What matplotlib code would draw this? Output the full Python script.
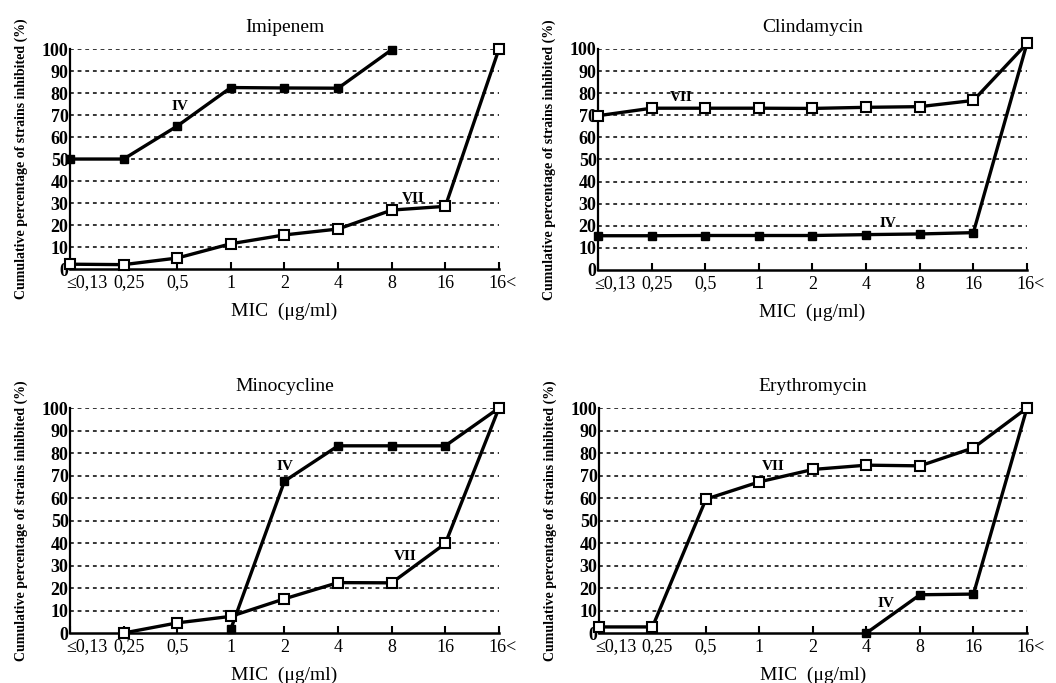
import matplotlib.pyplot as plt
import matplotlib.transforms as mtransforms

# categories on the MIC axis
mic_labels = ['≤0,13', '0,25', '0,5', '1', '2', '4', '8', '16', '16<']

# cumulative % inhibited, None where no point was drawn
imi_iv = [50, 50, 65, 82.5, 82.3, 82.2, 99.7, None, None]
imi_vii = [2.2, 2, 5, 11.5, 15.5, 18.2, 26.8, 28.5, 100]
cli_iv = [15.5, 15.5, 15.6, 15.6, 15.6, 16, 16.3, 16.9, 102.5]
cli_vii = [69.8, 73.2, 73.2, 73.2, 73.1, 73.6, 73.9, 76.7, 102.5]
min_iv = [None, None, None, 1.8, 67.5, 83.2, 83.2, 83.2, 100]
min_vii = [None, 0, 4.5, 7.4, 15.2, 22.4, 22.3, 39.8, 100]
ery_iv = [None, None, None, None, None, 0, 17, 17.3, 100]
ery_vii = [2.7, 2.7, 59.5, 67.2, 72.7, 74.6, 74.3, 82.3, 100]

panels = [
    ('Imipenem', imi_iv, imi_vii, (2.05, 74), (6.4, 32), [0.0663, 0.6061, 0.4062, 0.3221]),
    ('Clindamycin', cli_iv, cli_vii, (5.4, 21), (1.55, 78), [0.5663, 0.6047, 0.4062, 0.3236]),
    ('Minocycline', min_iv, min_vii, (4.0, 74), (6.25, 34), [0.0663, 0.0732, 0.4062, 0.3294]),
    ('Erythromycin', ery_iv, ery_vii, (5.36, 13), (3.25, 74), [0.5672, 0.0732, 0.4053, 0.3294]),
]

serif = 'Liberation Serif'

fig = plt.figure(figsize=(10.56, 6.83), dpi=100)

for title, iv, vii, iv_pos, vii_pos, rect in panels:
    ax = fig.add_axes(rect)
    x = list(range(len(mic_labels)))

    # dashed grid lines
    for g in range(10, 101, 10):
        ax.axhline(g, color='black', lw=1.1, ls=(0, (2.5, 2.5)), zorder=1)

    xs = [i for i, v in zip(x, iv) if v is not None]
    ys = [v for v in iv if v is not None]
    ax.plot(xs, ys, color='black', lw=2.4, marker='s', ms=6,
            mfc='black', mec='black', clip_on=False, zorder=3)

    xs = [i for i, v in zip(x, vii) if v is not None]
    ys = [v for v in vii if v is not None]
    ax.plot(xs, ys, color='black', lw=2.4, marker='s', ms=7.5,
            mfc='white', mec='black', mew=1.5, clip_on=False, zorder=4)

    ax.text(iv_pos[0], iv_pos[1], 'IV', fontsize=11, fontweight='bold',
            family=serif, ha='center', va='center')
    ax.text(vii_pos[0], vii_pos[1], 'VII', fontsize=11, fontweight='bold',
            family=serif, ha='center', va='center')

    ax.set_xlim(0, 8)
    ax.set_ylim(0, 100)
    ax.set_xticks(x)
    ax.set_xticklabels(mic_labels, family=serif, fontsize=13)
    ax.set_yticks(range(0, 101, 10))
    ax.set_yticklabels([str(v) for v in range(0, 101, 10)], family=serif,
                       fontsize=13, fontweight='bold')
    ax.tick_params(axis='x', direction='in', length=5, width=1.5, pad=4)
    ax.tick_params(axis='y', length=0, pad=1)

    # first label starts at the spine, last label keeps "16" on its tick
    labels = ax.get_xticklabels()
    labels[0].set_horizontalalignment('left')
    labels[0].set_transform(labels[0].get_transform() +
                            mtransforms.ScaledTranslation(-4 / 100, 0, fig.dpi_scale_trans))
    labels[1].set_transform(labels[1].get_transform() +
                            mtransforms.ScaledTranslation(5 / 100, 0, fig.dpi_scale_trans))
    labels[-1].set_horizontalalignment('left')
    labels[-1].set_transform(labels[-1].get_transform() +
                             mtransforms.ScaledTranslation(-11 / 100, 0, fig.dpi_scale_trans))

    for s in ['top', 'right']:
        ax.spines[s].set_visible(False)
    ax.spines['left'].set_linewidth(1.6)
    ax.spines['bottom'].set_linewidth(1.8)

    ax.set_title(title, family=serif, fontsize=14, pad=12)
    ax.set_xlabel('MIC  (μg/ml)', family=serif, fontsize=14, labelpad=8)
    ax.set_ylabel('Cumulative percentage of strains inhibited (%)', family=serif,
                  fontsize=10, fontweight='bold', labelpad=10)

plt.savefig('out.png', dpi=100)
